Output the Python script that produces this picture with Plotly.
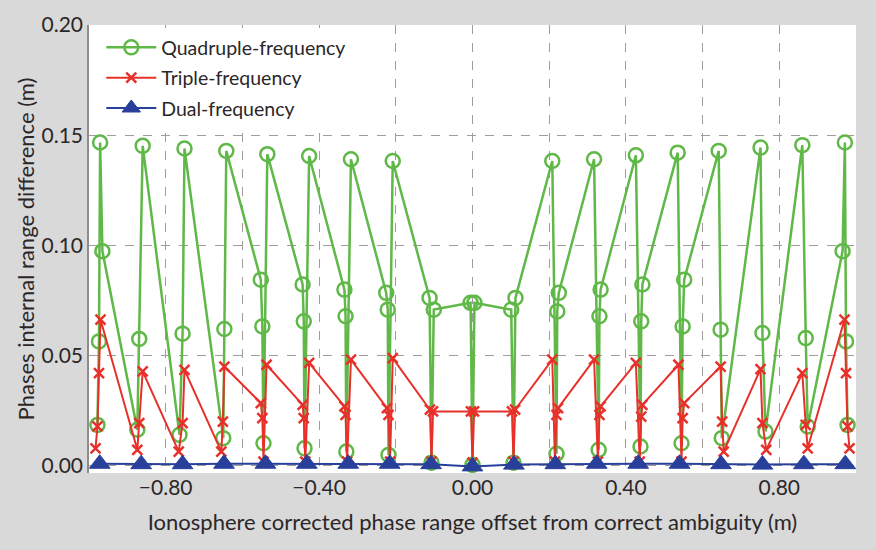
import plotly.graph_objects as go

# Quadruple-frequency combination: phase internal range difference (m)
quad_x = [
    -0.978, -0.974, -0.971, -0.965,
    -0.874, -0.869, -0.860,
    -0.764, -0.756, -0.751,
    -0.650, -0.647, -0.642,
    -0.552, -0.548, -0.545, -0.535,
    -0.443, -0.440, -0.438, -0.426,
    -0.334, -0.331, -0.329, -0.317,
    -0.225, -0.221, -0.219, -0.208,
    -0.112, -0.107, -0.101,
    -0.005, 0.000, 0.005,
    0.101, 0.107, 0.112,
    0.208, 0.219, 0.221, 0.225,
    0.317, 0.329, 0.331, 0.334,
    0.426, 0.438, 0.440, 0.443,
    0.535, 0.545, 0.548, 0.552,
    0.642, 0.647, 0.650,
    0.751, 0.756, 0.764,
    0.860, 0.869, 0.874,
    0.965, 0.971, 0.974, 0.978,
]
quad_y = [
    0.0186, 0.0565, 0.1467, 0.0974,
    0.0164, 0.0576, 0.1452,
    0.0141, 0.0600, 0.1440,
    0.0126, 0.0621, 0.1429,
    0.0845, 0.0633, 0.0103, 0.1414,
    0.0823, 0.0656, 0.0080, 0.1406,
    0.0800, 0.0679, 0.0065, 0.1391,
    0.0785, 0.0709, 0.0050, 0.1383,
    0.0762, 0.0015, 0.0709,
    0.0740, 0.0005, 0.0740,
    0.0709, 0.0015, 0.0762,
    0.1383, 0.0055, 0.0701, 0.0785,
    0.1391, 0.0073, 0.0679, 0.0800,
    0.1409, 0.0088, 0.0656, 0.0823,
    0.1421, 0.0103, 0.0633, 0.0845,
    0.1429, 0.0618, 0.0126,
    0.1444, 0.0603, 0.0156,
    0.1455, 0.0580, 0.0179,
    0.0974, 0.1467, 0.0565, 0.0186,
]

# Triple-frequency combination
triple_x = [
    -0.983, -0.978, -0.974, -0.970,
    -0.874, -0.869, -0.860,
    -0.766, -0.756, -0.751,
    -0.655, -0.651, -0.647,
    -0.552, -0.548, -0.545, -0.537,
    -0.443, -0.440, -0.436, -0.426,
    -0.334, -0.331, -0.327, -0.317,
    -0.223, -0.219, -0.215, -0.208,
    -0.111, -0.107, -0.103,
    -0.004, 0.000, 0.004,
    0.103, 0.107, 0.111,
    0.208, 0.215, 0.219, 0.223,
    0.317, 0.327, 0.331, 0.334,
    0.426, 0.436, 0.440, 0.443,
    0.537, 0.545, 0.548, 0.552,
    0.647, 0.651, 0.655,
    0.751, 0.756, 0.766,
    0.860, 0.869, 0.874,
    0.970, 0.974, 0.978, 0.983,
]
triple_y = [
    0.0080, 0.0179, 0.0421, 0.0664,
    0.0073, 0.0194, 0.0429,
    0.0065, 0.0194, 0.0436,
    0.0065, 0.0201, 0.0451,
    0.0285, 0.0217, 0.0020, 0.0459,
    0.0277, 0.0217, 0.0020, 0.0467,
    0.0270, 0.0232, 0.0020, 0.0482,
    0.0262, 0.0232, 0.0020, 0.0489,
    0.0255, 0.0020, 0.0247,
    0.0247, 0.0015, 0.0247,
    0.0247, 0.0020, 0.0255,
    0.0482, 0.0020, 0.0232, 0.0262,
    0.0482, 0.0020, 0.0232, 0.0270,
    0.0467, 0.0020, 0.0224, 0.0277,
    0.0459, 0.0020, 0.0217, 0.0285,
    0.0451, 0.0201, 0.0065,
    0.0439, 0.0194, 0.0073,
    0.0421, 0.0186, 0.0080,
    0.0664, 0.0421, 0.0179, 0.0080,
]

# Dual-frequency combination
dual_x = [
    -0.972, -0.864, -0.756, -0.648, -0.540, -0.432, -0.324, -0.216, -0.108,
    0.000,
    0.108, 0.216, 0.324, 0.432, 0.540, 0.648, 0.756, 0.864, 0.972,
]
dual_y = [
    0.0010, 0.0008, 0.0008, 0.0010, 0.0010, 0.0010, 0.0010, 0.0010, 0.0008,
    -0.0002,
    0.0006, 0.0008, 0.0010, 0.0010, 0.0010, 0.0008, 0.0006, 0.0008, 0.0008,
]

series_names = ["Quadruple-frequency", "Triple-frequency", "Dual-frequency"]

x_title = "Ionosphere corrected phase range offset from correct ambiguity (m)"
y_title = "Phases internal range difference (m)"
y_tick_vals = [0.00, 0.05, 0.10, 0.15, 0.20]
y_tick_text = ["0.00", "0.05", "0.10", "0.15", "0.20"]
x_tick_vals = [-0.8, -0.4, 0.0, 0.4, 0.8]
x_tick_text = ["\u22120.80", "\u22120.40", "0.00", "0.40", "0.80"]

GREEN = "#5fb847"
RED = "#e8302a"
BLUE = "#28409a"
GRID = "#a39b9b"
FONT = "Lato"
TEXT = "#2b2728"

fig = go.Figure()

fig.add_trace(go.Scatter(
    x=quad_x, y=quad_y, name=series_names[0], mode="lines+markers",
    legendgroup="q",
    line=dict(color=GREEN, width=2.5),
    marker=dict(symbol="circle-open", size=14, color=GREEN,
                line=dict(width=2.5, color=GREEN)),
))
fig.add_trace(go.Scatter(
    x=triple_x, y=triple_y, name=series_names[1], mode="lines+markers",
    legendgroup="t",
    line=dict(color=RED, width=2),
    marker=dict(symbol="x-thin-open", size=10, color=RED,
                line=dict(width=2.5, color=RED)),
))
fig.add_trace(go.Scatter(
    x=dual_x, y=dual_y, name=series_names[2], mode="lines+markers",
    legendgroup="d",
    line=dict(color=BLUE, width=2),
    marker=dict(symbol="triangle-up-dot", size=18, color=BLUE,
                line=dict(width=1, color=BLUE)),
))

fig.update_layout(
    width=876, height=550,
    margin=dict(l=89, r=20, t=25, b=77),
    paper_bgcolor="#d9d9d9",
    plot_bgcolor="white",
    font=dict(family=FONT, color=TEXT, size=19),
    showlegend=True,
    legend=dict(
        x=0.016, y=0.993, xanchor="left", yanchor="top",
        bgcolor="white", borderwidth=0,
        font=dict(family=FONT, size=19.5, color=TEXT),
        tracegroupgap=2, itemwidth=50,
    ),
)

fig.update_xaxes(
    range=[-1, 1],
    tickvals=x_tick_vals, ticktext=x_tick_text,
    tickfont=dict(size=21),
    showgrid=True, gridcolor=GRID, griddash="dash", gridwidth=1,
    minor=dict(dtick=0.2, tick0=0, showgrid=True, gridcolor=GRID,
               griddash="dash", gridwidth=1),
    zeroline=False,
    showline=False,
    ticks="",
    title=dict(text=x_title, font=dict(size=22), standoff=16),
)
fig.update_yaxes(
    range=[-0.0032, 0.2],
    tickvals=y_tick_vals, ticktext=y_tick_text,
    tickfont=dict(size=21),
    showgrid=True, gridcolor=GRID, griddash="dash", gridwidth=1,
    zeroline=False,
    showline=True, linecolor="#8c8c8c", linewidth=1.5,
    ticks="",
    title=dict(text=y_title, font=dict(size=22), standoff=1),
)

fig.write_html("out.html")
